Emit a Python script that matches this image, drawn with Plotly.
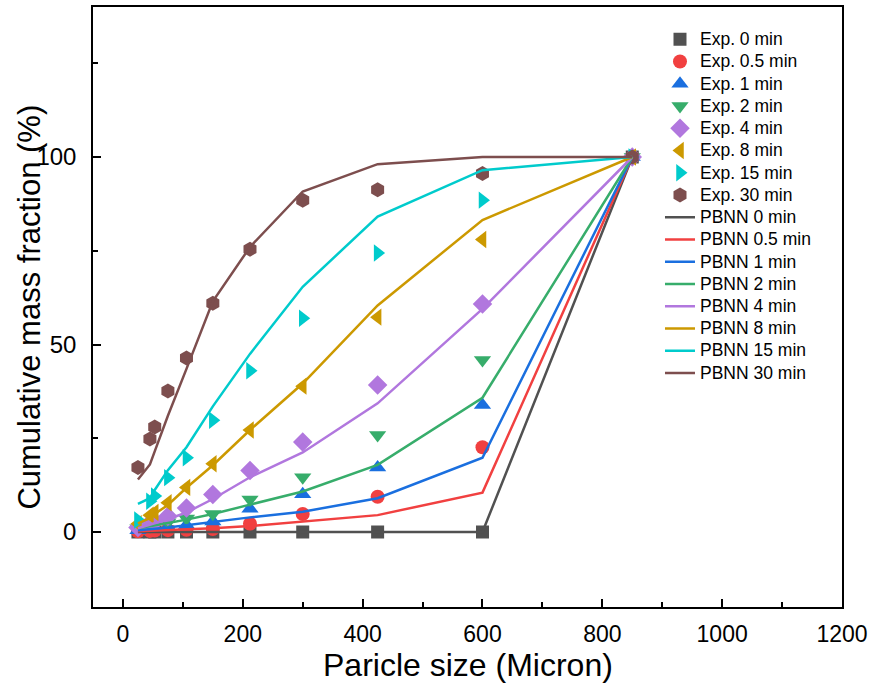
import plotly.graph_objects as go

# Particle sizes (micron)
sizes = [25, 45, 53, 75, 106, 150, 212, 300, 425, 600, 850]

times = ["0", "0.5", "1", "2", "4", "8", "15", "30"]

# Experimental cumulative mass fraction (%)
exp_0 = [0, 0, 0, 0, 0, 0, 0, 0, 0, 0, 100]
exp_05 = [0.2, 0.3, 0.4, 0.5, 0.6, 0.8, 2.2, 4.8, 9.4, 22.6, 100]
exp_1 = [0.5, 0.8, 1.0, 1.3, 1.9, 2.8, 6.2, 10.1, 17.2, 33.9, 100]
exp_2 = [1.0, 1.5, 2.0, 2.6, 3.6, 4.8, 8.7, 14.6, 25.9, 45.9, 100]
exp_4 = [1.2, 2.4, 2.8, 4.2, 6.4, 10.0, 16.4, 24.0, 39.2, 60.8, 100]
exp_8 = [2.2, 4.5, 5.2, 7.8, 11.9, 18.2, 27.2, 38.9, 57.3, 78.0, 100]
exp_15 = [3.2, 8.2, 9.6, 14.5, 19.8, 29.8, 43.0, 57.0, 74.4, 88.5, 100]
exp_30 = [17.2, 24.8, 28.0, 37.6, 46.4, 61.0, 75.4, 88.5, 91.3, 95.6, 100]

# PBNN model predictions (%)
pbnn_0 = [0, 0, 0, 0, 0, 0, 0, 0, 0, 0, 100]
pbnn_05 = [0.2, 0.3, 0.4, 0.5, 0.7, 1.0, 1.6, 2.8, 4.5, 10.5, 100]
pbnn_1 = [0.5, 0.7, 0.9, 1.2, 1.8, 2.7, 3.9, 5.4, 9.0, 19.8, 100]
pbnn_2 = [1.0, 1.5, 1.8, 2.4, 3.3, 4.8, 7.3, 10.8, 17.9, 35.8, 100]
pbnn_4 = [1.0, 2.0, 2.5, 3.4, 5.2, 8.8, 14.6, 21.2, 34.3, 59.5, 100]
pbnn_8 = [2.3, 3.7, 4.8, 7.2, 11.8, 17.8, 27.2, 39.6, 60.4, 83.2, 100]
pbnn_15 = [7.5, 9.0, 11.2, 16.5, 22.6, 33.5, 47.5, 65.4, 84.1, 96.5, 100]
pbnn_30 = [14.0, 18.0, 21.5, 31.0, 43.5, 61.5, 76.0, 90.8, 98.1, 100, 100]

exp_series = [exp_0, exp_05, exp_1, exp_2, exp_4, exp_8, exp_15, exp_30]
pbnn_series = [pbnn_0, pbnn_05, pbnn_1, pbnn_2, pbnn_4, pbnn_8, pbnn_15, pbnn_30]

colors = ["#515151", "#F14040", "#1A6FDF", "#37AD6B", "#B177DE", "#CC9900", "#00CBCC", "#7D4E4E"]
symbols = ["square", "circle", "triangle-up", "triangle-down", "diamond",
           "triangle-left", "triangle-right", "hexagon"]
msizes = [13, 14, 15, 15, 15, 15, 15, 15]

LEG = '<span style="font-size:17.5px">{}</span>'

fig = go.Figure()
for t, ys, c, s, ms in zip(times, exp_series, colors, symbols, msizes):
    fig.add_trace(go.Scatter(x=sizes, y=ys, mode="markers", name=LEG.format(f"Exp. {t} min"),
                             marker=dict(symbol=s, color=c, size=ms, line=dict(width=0))))
for t, ys, c in zip(times, pbnn_series, colors):
    fig.add_trace(go.Scatter(x=sizes, y=ys, mode="lines", name=LEG.format(f"PBNN {t} min"),
                             line=dict(color=c, width=2.5)))

axfont = "Liberation Sans, Arial"

fig.update_layout(
    width=873, height=688,
    margin=dict(l=93, r=31, t=5, b=81),
    plot_bgcolor="white", paper_bgcolor="white",
    font=dict(family="Liberation Sans, Arial", color="black"),
    legend=dict(x=0.757, y=0.973, xanchor="left", yanchor="top",
                bgcolor="rgba(0,0,0,0)", font=dict(size=14.8, family="Liberation Sans, Arial"),
                tracegroupgap=0, itemwidth=30),
    annotations=[
        dict(text="Cumulative mass fraction (%)", xref="paper", yref="paper",
             x=-0.086, y=0.5, xanchor="center", yanchor="middle", textangle=-90,
             showarrow=False, font=dict(size=31, family=axfont)),
        dict(text="Paricle size (Micron)", xref="paper", yref="paper",
             x=0.5, y=-0.097, xanchor="center", yanchor="middle",
             showarrow=False, font=dict(size=32, family=axfont)),
    ],
)
fig.update_xaxes(
    range=[-50, 1200], tick0=0, dtick=200,
    ticks="inside", ticklen=8, tickwidth=1.5, tickcolor="black",
    minor=dict(dtick=100, ticks="inside", ticklen=5, tickwidth=1.5, tickcolor="black"),
    showline=True, linewidth=1.5, linecolor="black", mirror=True,
    showgrid=False, zeroline=False,
    tickfont=dict(size=23, family=axfont), ticklabelstandoff=6,
)
fig.update_yaxes(
    range=[-20, 140], tick0=0, dtick=50,
    ticks="inside", ticklen=8, tickwidth=1.5, tickcolor="black",
    minor=dict(dtick=25, ticks="inside", ticklen=5, tickwidth=1.5, tickcolor="black"),
    showline=True, linewidth=1.5, linecolor="black", mirror=True,
    showgrid=False, zeroline=False,
    tickfont=dict(size=24, family=axfont), ticklabelstandoff=10,
)

fig.write_html("out.html")
